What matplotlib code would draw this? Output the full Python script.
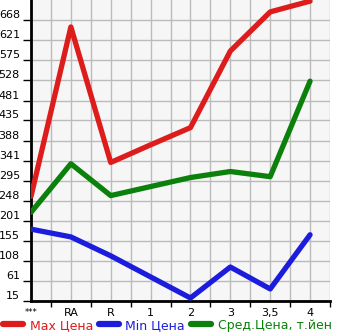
import matplotlib
matplotlib.use("Agg")
import matplotlib.pyplot as plt
from matplotlib.ticker import FixedLocator
import numpy as np

categories = ["***", "RA", "R", "1", "2", "3", "3,5", "4"]
max_price = [258, 652, 337, 378, 418, 596, 687, 712]
min_price = [182, 164, 120, 71, 22, 94, 43, 169]
avg_price = [221, 334, 260, 281, 302, 316, 304, 526]
y_ticks = [15, 61, 108, 155, 201, 248, 295, 341, 388, 435, 481, 528, 575, 621, 668]

W, H = 345, 335
fig = plt.figure(figsize=(W / 100, H / 100), dpi=100)
ax = fig.add_axes([31 / W, (H - 301) / H, (330 - 31) / W, 301 / H])
ax.set_facecolor("#f6f6f6")

x = np.arange(len(categories))
lw = 3.8
ax.plot(x, max_price, color="#dd1c1c", lw=lw, solid_capstyle="round", label="Max Цена", zorder=3)
ax.plot(x, min_price, color="#1c1cdd", lw=lw, solid_capstyle="round", label="Min Цена", zorder=3)
ax.plot(x, avg_price, color="#0b800b", lw=lw, solid_capstyle="round", label="Сред.Цена, т.йен", zorder=3)

step = (y_ticks[-1] - y_ticks[0]) / (len(y_ticks) - 1)
ax.set_ylim(y_ticks[0], y_ticks[-1] + step)
ax.set_xlim(0, 7.5)

ax.set_yticks(y_ticks)
ax.set_yticklabels([str(v) for v in y_ticks])
ax.set_xticks(x)
ax.set_xticklabels(categories)
ax.xaxis.set_minor_locator(FixedLocator(np.arange(0.5, 7.6, 1.0)))

ax.grid(True, which="both", axis="x", color="#bbbbbb", lw=1, zorder=1)
ax.grid(True, which="major", axis="y", color="#bbbbbb", lw=1, zorder=1)
ax.set_axisbelow(True)

ax.tick_params(axis="y", which="major", length=6, width=1, direction="out", labelsize=8, pad=2)
ax.tick_params(axis="x", which="major", length=0, labelsize=8, pad=5)
ax.tick_params(axis="x", which="minor", length=4, width=1, direction="out")
for lab in ax.get_yticklabels():
    lab.set_verticalalignment("bottom")
ax.get_xticklabels()[0].set_fontsize(6)

for s in ["top", "right"]:
    ax.spines[s].set_visible(False)
ax.spines["left"].set_linewidth(2)
ax.spines["bottom"].set_linewidth(2)

leg = fig.legend(loc="lower left", bbox_to_anchor=(-0.005, -0.005), ncol=3, frameon=False,
                 fontsize=9, handlelength=1.6, handletextpad=0.5, columnspacing=0.5,
                 borderaxespad=0)
for t, l in zip(leg.get_texts(), leg.get_lines()):
    t.set_color(l.get_color())
    l.set_linewidth(4.5)

fig.savefig("out.png", dpi=100)
